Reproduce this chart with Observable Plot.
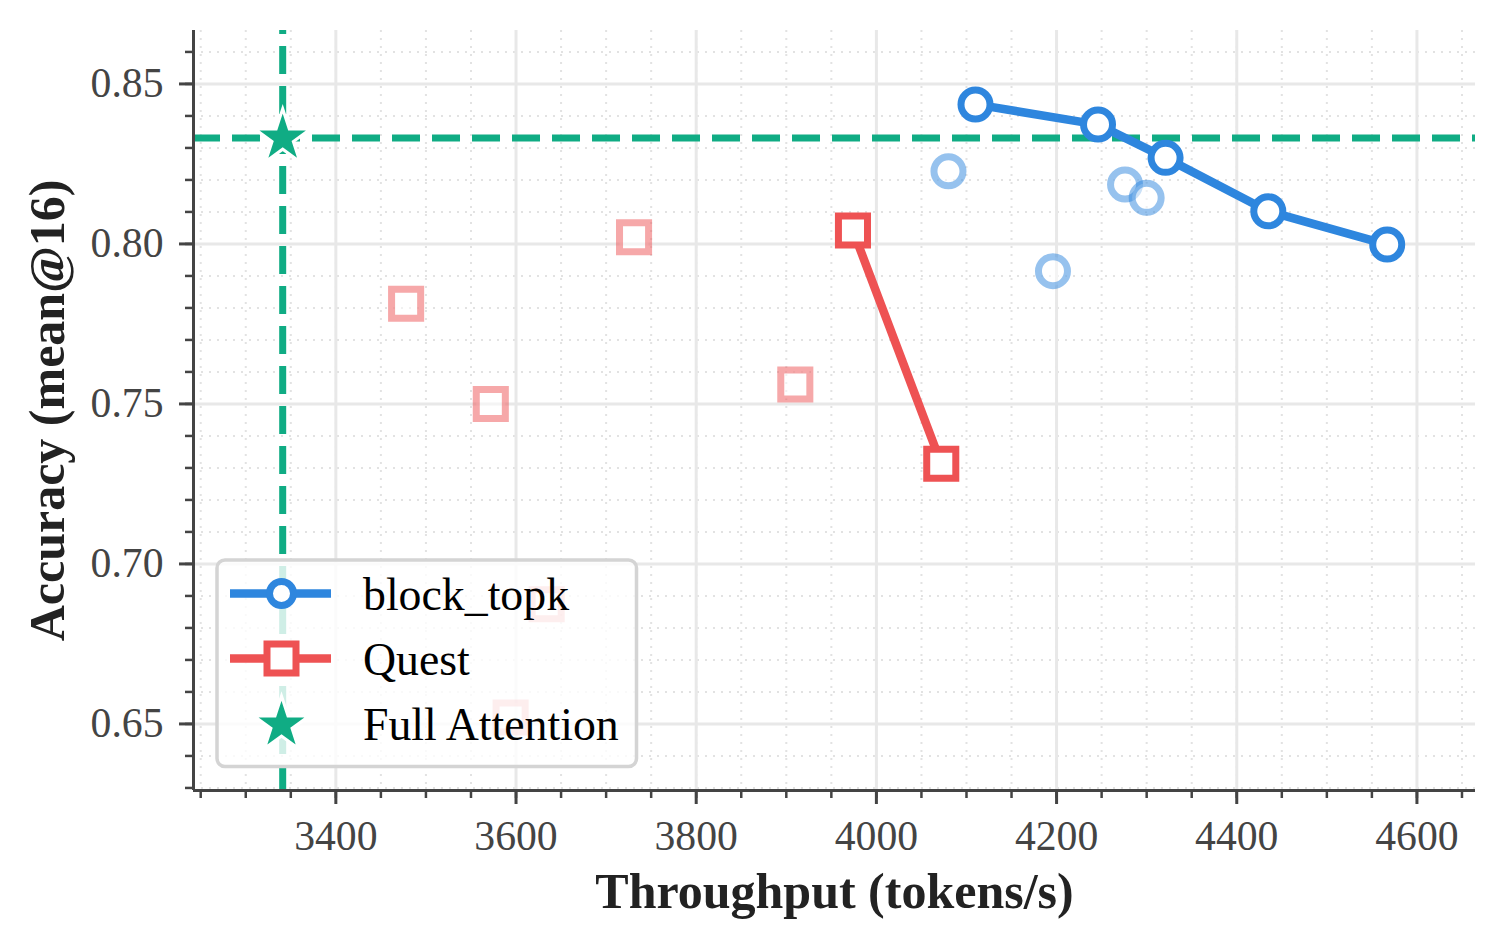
<!DOCTYPE html>
<html>
<head>
<meta charset="utf-8">
<script src="https://cdn.jsdelivr.net/npm/d3@7"></script>
<script src="https://cdn.jsdelivr.net/npm/@observablehq/plot@0.6"></script>
<style>
  html, body { margin: 0; padding: 0; background: #fff; }
  #wrap { position: relative; width: 1505px; height: 949px; }
  #wrap > svg { display: block; }
  #legend { position: absolute; left: 0; top: 0; overflow: visible; }
</style>
</head>
<body>
<div id="wrap"></div>
<script>
// ---- data: throughput (tokens/s) and accuracy (mean@16) ----
const blockTopkThroughput = [4110, 4246, 4321, 4435, 4567];
const blockTopkAccuracy   = [0.8436, 0.8373, 0.8269, 0.8102, 0.7998];

const blockTopkOtherThroughput = [4080, 4196, 4276, 4300];
const blockTopkOtherAccuracy   = [0.8227, 0.7915, 0.8186, 0.8144];

const questThroughput = [3974, 4072];
const questAccuracy   = [0.8042, 0.7313];

const questOtherThroughput = [3478, 3572, 3594, 3634, 3731, 3910];
const questOtherAccuracy   = [0.7813, 0.7500, 0.6520, 0.6874, 0.8021, 0.7561];

const fullThroughput = [3341];
const fullAccuracy   = [0.8331];

const seriesNames = ["block_topk", "Quest", "Full Attention"];

const xTicks = [3400, 3600, 3800, 4000, 4200, 4400, 4600];
const yTicks = [0.65, 0.70, 0.75, 0.80, 0.85];
const xMinor = d3.range(3250, 4651, 50);
const yMinor = d3.range(63, 87).map(d => d / 100);
const xDomain = [3242, 4665];
const yDomain = [0.6292, 0.8667];

// ---- styling ----
const BLUE = "#2e86de", RED = "#ee5253", GREEN = "#10ac84";
const AXIS = "#444444";
const FONT = "'Liberation Serif', 'Times New Roman', Times, serif";

const rows = (xs, ys) => xs.map((t, i) => ({t, a: ys[i]}));
const blockMain = rows(blockTopkThroughput, blockTopkAccuracy);
const blockOther = rows(blockTopkOtherThroughput, blockTopkOtherAccuracy);
const questMain = rows(questThroughput, questAccuracy);
const questOther = rows(questOtherThroughput, questOtherAccuracy);
const full = rows(fullThroughput, fullAccuracy);

const chart = Plot.plot({
  width: 1505,
  height: 949,
  marginLeft: 193,
  marginRight: 30,
  marginTop: 30,
  marginBottom: 159,
  style: {fontFamily: FONT, background: "#fff", overflow: "visible"},
  x: {domain: xDomain, label: null},
  y: {domain: yDomain, label: null},
  marks: [
    // minor dotted grid, then major solid grid
    Plot.gridX(xMinor, {stroke: "#e2e2e2", strokeOpacity: 1, strokeWidth: 2, strokeDasharray: "2,6"}),
    Plot.gridY(yMinor, {stroke: "#e2e2e2", strokeOpacity: 1, strokeWidth: 2, strokeDasharray: "2,6"}),
    Plot.gridX(xTicks, {stroke: "#e8e8e8", strokeOpacity: 1, strokeWidth: 3}),
    Plot.gridY(yTicks, {stroke: "#e8e8e8", strokeOpacity: 1, strokeWidth: 3}),

    // full-attention reference lines
    Plot.ruleY(full, {y: "a", stroke: GREEN, strokeWidth: 7, strokeDasharray: "28,12", strokeDashoffset: 1}),
    Plot.ruleX(full, {x: "t", y1: yDomain[0], y2: yDomain[1], stroke: GREEN, strokeWidth: 7,
      strokeDasharray: "28,12", strokeDashoffset: 4}),

    // other configurations (faded)
    Plot.dot(questOther, {x: "t", y: "a", symbol: "square", r: 16.4, stroke: RED, strokeWidth: 7,
      fill: "#fff", strokeOpacity: 0.5, fillOpacity: 0.5}),
    Plot.dot(blockOther, {x: "t", y: "a", symbol: "circle", r: 14.5, stroke: BLUE, strokeWidth: 7,
      fill: "#fff", strokeOpacity: 0.5, fillOpacity: 0.5}),

    // frontier lines
    Plot.line(questMain, {x: "t", y: "a", stroke: RED, strokeWidth: 8.5, strokeLinejoin: "round"}),
    Plot.dot(questMain, {x: "t", y: "a", symbol: "square", r: 16.4, stroke: RED, strokeWidth: 7, fill: "#fff"}),
    Plot.line(blockMain, {x: "t", y: "a", stroke: BLUE, strokeWidth: 8.5, strokeLinejoin: "round"}),
    Plot.dot(blockMain, {x: "t", y: "a", symbol: "circle", r: 14.5, stroke: BLUE, strokeWidth: 7, fill: "#fff"}),

    // full attention
    Plot.dot(full, {x: "t", y: "a", symbol: "star", r: 17.5, fill: GREEN, stroke: "#fff", strokeWidth: 3}),

    // axes
    Plot.axisX(xMinor, {tickSize: 8, strokeWidth: 2.5, stroke: AXIS, tickFormat: () => "", label: null}),
    Plot.axisX(xTicks, {tickSize: 14, tickPadding: 16, strokeWidth: 3, stroke: AXIS, fill: AXIS,
      fontSize: 41.7, tickFormat: d => String(d), label: null}),
    Plot.axisY(yMinor, {tickSize: 8, strokeWidth: 2.5, stroke: AXIS, tickFormat: () => "", label: null}),
    Plot.axisY(yTicks, {tickSize: 14, tickPadding: 16, strokeWidth: 3, stroke: AXIS, fill: AXIS,
      fontSize: 41.7, tickFormat: d => d.toFixed(2), label: null}),
    Plot.ruleX([xDomain[0]], {stroke: AXIS, strokeWidth: 3}),
    Plot.ruleY([yDomain[0]], {stroke: AXIS, strokeWidth: 3}),

    // axis titles
    Plot.text(["Throughput (tokens/s)"], {frameAnchor: "bottom", textAnchor: "middle", lineAnchor: "middle",
      dy: 101, fontSize: 50, fontWeight: "bold", fill: "#222"}),
    Plot.text(["Accuracy (mean@16)"], {frameAnchor: "left", textAnchor: "middle", lineAnchor: "middle",
      dx: -145.5, rotate: -90, fontSize: 50, fontWeight: "bold", fill: "#222"})
  ]
});

const wrap = document.getElementById("wrap");
wrap.appendChild(chart);

// ---- legend (lower-left corner of the plot area) ----
const lg = d3.select(wrap).append("svg")
  .attr("id", "legend")
  .attr("width", 1505).attr("height", 949)
  .attr("font-family", FONT);

const box = lg.append("g").attr("transform", "translate(217,560)");
box.append("rect")
  .attr("x", 0).attr("y", 0).attr("width", 419.5).attr("height", 206.5)
  .attr("rx", 8).attr("ry", 8)
  .attr("fill", "rgba(255,255,255,0.8)")
  .attr("stroke", "#d4d4d4").attr("stroke-width", 3.5);

const items = [
  {name: seriesNames[0], color: BLUE, symbol: d3.symbolCircle, line: true, cy: 33.5, base: 50, circle: 12},
  {name: seriesNames[1], color: RED, symbol: d3.symbolSquare, line: true, cy: 98.5, base: 114.5},
  {name: seriesNames[2], color: GREEN, symbol: d3.symbolStar, line: false, cy: 165, base: 179.5}
];

for (const it of items) {
  const g = box.append("g");
  if (it.line) {
    g.append("line").attr("x1", 13).attr("x2", 114).attr("y1", it.cy).attr("y2", it.cy)
      .attr("stroke", it.color).attr("stroke-width", 8.5);
  }
  if (it.symbol === d3.symbolCircle) {
    g.append("circle").attr("cx", 64.5).attr("cy", it.cy).attr("r", it.circle)
      .attr("fill", "#fff").attr("stroke", it.color).attr("stroke-width", 7);
  } else if (it.symbol === d3.symbolSquare) {
    g.append("path").attr("transform", `translate(64.5,${it.cy})`)
      .attr("d", d3.symbol(d3.symbolSquare, 29 * 29)())
      .attr("fill", "#fff").attr("stroke", it.color).attr("stroke-width", 7);
  } else {
    const R = 29;
    g.append("path").attr("transform", `translate(64.5,${it.cy})`)
      .attr("d", d3.symbol(d3.symbolStar, R * R / 0.8908130915292852)())
      .attr("fill", it.color).attr("stroke", "#fff").attr("stroke-width", 3);
  }
  g.append("text").attr("x", 146).attr("y", it.base)
    .attr("font-size", 45.8).attr("fill", "#000").text(it.name);
}
</script>
</body>
</html>
